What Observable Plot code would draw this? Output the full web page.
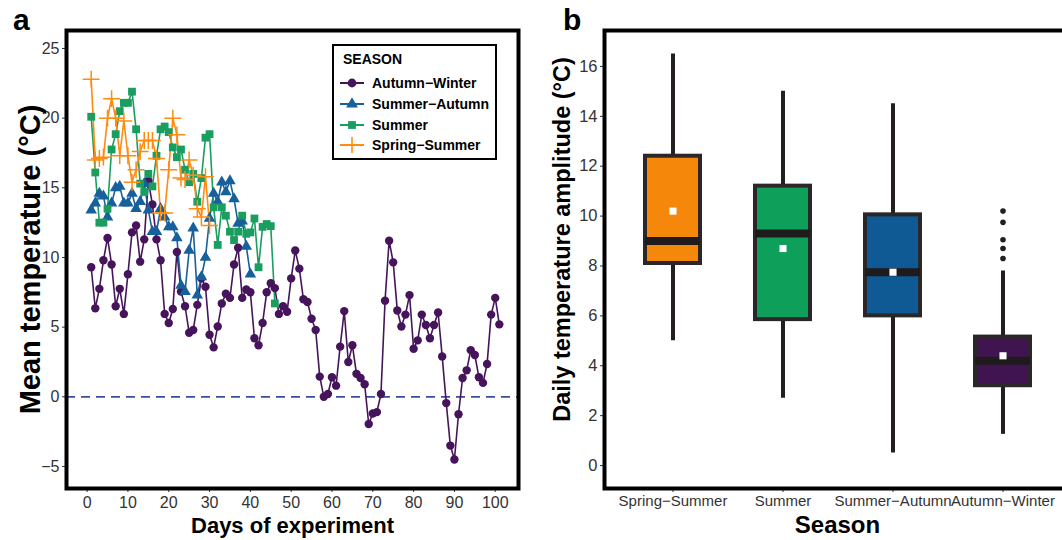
<!DOCTYPE html>
<html>
<head>
<meta charset="utf-8">
<script src="https://cdn.jsdelivr.net/npm/d3@7"></script>
<script src="https://cdn.jsdelivr.net/npm/@observablehq/plot@0.6"></script>
<style>
  html, body { margin: 0; padding: 0; background: #fff; overflow: hidden; }
  #wrap { position: relative; width: 1062px; height: 540px; overflow: hidden; font-family: "Liberation Sans", Arial, sans-serif; }
  .panel { position: absolute; top: 0; height: 540px; }
  .panel svg { max-width: none !important; }
  .tag { position: absolute; font-weight: bold; font-size: 30px; line-height: 30px; color: #000; }
  #legend { position: absolute; left: 332px; top: 44px; width: 161px; height: 112px; border: 2px solid #000; background: #fff; }
  #legend .ttl { position: absolute; left: 9px; top: 5px; font-size: 14px; line-height: 16px; font-weight: bold; }
  #legend .row { position: absolute; left: 0; height: 16px; width: 161px; }
  #legend .row svg { position: absolute; left: 5px; top: 0; }
  #legend .row span { position: absolute; left: 38px; top: 0; font-size: 14px; line-height: 16px; font-weight: bold; white-space: nowrap; }
</style>
</head>
<body>
<div id="wrap">
  <div class="panel" id="left" style="left:0px; width:530px"></div>
  <div class="panel" id="right" style="left:530px; width:545px"></div>
  <div class="tag" style="left:13px; top:5px">a</div>
  <div class="tag" style="left:563px; top:5px">b</div>
  <div id="legend"><div class="ttl">SEASON</div></div>
</div>
<script>
// ---------- Panel a data ----------
const seasons = ["Autumn−Winter", "Summer−Autumn", "Summer", "Spring−Summer"];
const lineColors = ["#46145a", "#17609b", "#1a9e5f", "#ff8c12"];
const symbols = ["circle", "triangle", "square", "plus"];

const autumnWinter = [9.3,6.35,7.75,9.8,11.4,9.5,6.5,7.75,5.95,8.8,
  11.8,12.3,9.7,11.3,15.5,13.8,11.3,9.8,5.95,5.3,
  6.3,10.4,7.55,6.5,4.6,4.8,6.6,8.5,7.9,4.45,
  3.55,5.05,6.7,7.4,7.1,9.5,10.7,7.1,7.7,7.5,
  4.2,3.7,5.3,7.5,8.15,7.8,5.95,6.5,6.1,8.5,
  10.5,9.2,7.0,6.8,5.6,4.8,1.45,0.0,0.2,1.4,
  0.8,3.6,6.15,2.5,3.7,1.65,1.35,0.9,-1.95,-1.2,
  -1.1,0.2,6.9,11.2,9.65,6.2,5.05,5.9,7.3,3.45,
  4.05,5.9,5.15,4.2,5.15,6.05,2.9,-0.45,-3.5,-4.5,
  -1.25,1.35,1.9,3.35,3.0,1.4,1.0,2.35,5.9,7.1,5.2];
const summerAutumn = [13.4,13.9,14.6,14.4,12.9,13.9,15.0,15.1,13.9,13.9,
  14.6,13.5,14.0,15.3,13.4,11.85,11.85,13.5,12.9,12.2,
  12.2,11.4,8.0,7.55,10.5,12.1,7.3,8.6,10.0,12.8,
  14.6,14.0,15.4,14.7,15.5,14.2,12.45,12.6,10.8,8.8];
const summer = [20.1,16.1,12.5,12.5,13.5,17.75,18.85,20.5,21.1,21.1,
  21.9,19.2,15.3,14.7,16.0,15.1,17.3,19.2,19.4,19.0,
  17.9,17.2,17.75,16.3,15.4,16.0,14.0,15.7,18.6,18.85,
  13.6,10.9,13.6,13.0,11.85,11.25,11.85,13.0,11.7,11.8,
  12.8,9.3,12.2,12.4,12.25,6.7];
const springSummer = [22.8,17.0,17.1,17.2,20.0,21.4,20.0,17.3,19.8,17.3,
  15.4,16.3,17.6,18.4,18.4,18.4,17.1,13.2,13.2,16.3,
  20.0,18.8,15.7,15.6,17.0,15.9,13.5,12.9,15.8,12.3];
const seriesValues = [autumnWinter, summerAutumn, summer, springSummer];

const xTicksA = [0,10,20,30,40,50,60,70,80,90,100];
const yTicksA = [-5,0,5,10,15,20,25];

// ---------- Panel b data ----------
const boxSeasons = ["Spring−Summer", "Summer", "Summer−Autumn", "Autumn−Winter"];
const boxColors = ["#f5870a", "#0ea05b", "#0f5a95", "#3f1450"];
const whiskerLow  = [5.0, 2.7, 0.5, 1.25];
const q1          = [8.1, 5.85, 6.0, 3.2];
const median      = [9.0, 9.3, 7.75, 4.2];
const q3          = [12.4, 11.2, 10.05, 5.15];
const whiskerHigh = [16.5, 15.0, 14.5, 7.8];
const meanValue   = [10.2, 8.7, 7.75, 4.4];
const outlierSeason = ["Autumn−Winter","Autumn−Winter","Autumn−Winter","Autumn−Winter","Autumn−Winter"];
const outlierValue  = [10.2, 9.75, 9.05, 8.7, 8.3];
const yTicksB = [0,2,4,6,8,10,12,14,16];

const FONT = "'Liberation Sans', Arial, sans-serif";

// ---------- Build panel a ----------
const seriesRows = seasons.map((s, k) => seriesValues[k].map((v, i) => ({season: s, day: i + 1, temp: v})));

const lineMarks = seriesRows.map((rows, k) =>
  Plot.line(rows, {x: "day", y: "temp", stroke: lineColors[k], strokeWidth: 1.6}));
const dotMarks = seriesRows.map((rows, k) => {
  if (symbols[k] === "plus") {
    return Plot.dot(rows, {x: "day", y: "temp", symbol: "plus", stroke: lineColors[k], strokeWidth: 1.5, r: 5.5});
  }
  const r = symbols[k] === "circle" ? 4.2 : symbols[k] === "triangle" ? 4.3 : 4.4;
  return Plot.dot(rows, {x: "day", y: "temp", symbol: symbols[k], fill: lineColors[k], stroke: "none", r});
});

const left = Plot.plot({
  width: 530, height: 540,
  marginLeft: 66, marginRight: 12, marginTop: 30, marginBottom: 52,
  style: {fontFamily: FONT, background: "transparent", color: "#333", overflow: "visible", maxWidth: "none"},
  x: {domain: [-5.05, 105.7]},
  y: {domain: [-6.58, 26.29]},
  marks: [
    Plot.ruleY([0], {stroke: "#3a4ea0", strokeWidth: 1.7, strokeDasharray: "9,6"}),
    ...lineMarks,
    ...dotMarks,
    Plot.axisX(xTicksA, {tickSize: 4, tickPadding: 4, fontSize: 16, label: null}),
    Plot.axisY(yTicksA, {tickSize: 4, tickPadding: 3, fontSize: 16, label: null}),
    Plot.text(["Days of experiment"], {text: d => d, frameAnchor: "bottom", textAnchor: "middle", dy: 44, fontSize: 22, fontWeight: "bold", fill: "#000"}),
    Plot.text(["Mean temperature (°C)"], {text: d => d, frameAnchor: "left", textAnchor: "middle", dx: -36, rotate: -90, fontSize: 29, fontWeight: "bold", fill: "#000"}),
    Plot.frame({stroke: "#000", strokeWidth: 4})
  ]
});
document.getElementById("left").appendChild(left);

// ---------- Legend (panel a) ----------
const symTypes = {circle: d3.symbolCircle, triangle: d3.symbolTriangle, square: d3.symbolSquare, plus: d3.symbolPlus};
const legend = document.getElementById("legend");
const rowTops = [29, 49.8, 70.6, 91.4];
seasons.forEach((s, k) => {
  const row = document.createElement("div");
  row.className = "row";
  row.style.top = rowTops[k] + "px";
  const isPlus = symbols[k] === "plus";
  const rr = isPlus ? 6 : 4.4;
  const path = d3.symbol(symTypes[symbols[k]], Math.PI * rr * rr)();
  row.innerHTML =
    `<svg width="26" height="16" viewBox="0 0 26 16">
       <line x1="1" y1="8" x2="25" y2="8" stroke="${lineColors[k]}" stroke-width="2"/>
       <path transform="translate(13,8)" d="${path}" ${isPlus ? `fill="none" stroke="${lineColors[k]}" stroke-width="1.6"` : `fill="${lineColors[k]}"`}/>
     </svg><span>${s}</span>`;
  legend.appendChild(row);
});

// ---------- Build panel b ----------
const stats = boxSeasons.map((s, i) => ({
  season: s, lo: whiskerLow[i], q1: q1[i], med: median[i], q3: q3[i], hi: whiskerHigh[i], mean: meanValue[i], color: boxColors[i]
}));
const outliers = outlierValue.map((v, i) => ({season: outlierSeason[i], amp: v}));

const right = Plot.plot({
  width: 545, height: 540,
  marginLeft: 74, marginRight: 5, marginTop: 30, marginBottom: 52,
  style: {fontFamily: FONT, background: "transparent", color: "#333", overflow: "visible", maxWidth: "none"},
  x: {type: "band", domain: boxSeasons, paddingInner: 0.5, paddingOuter: 0.35},
  y: {domain: [-0.92, 17.44]},
  marks: [
    Plot.ruleX(stats, {x: "season", y1: "lo", y2: "hi", stroke: "#231f20", strokeWidth: 4}),
    Plot.barY(stats, {x: "season", y1: "q1", y2: "q3", fill: d => d.color, stroke: "#2b2627", strokeWidth: 4}),
    Plot.tickY(stats, {x: "season", y: "med", stroke: "#1f1a1c", strokeWidth: 8}),
    Plot.dot(stats, {x: "season", y: "mean", symbol: "square", fill: "#fff", stroke: "none", r: 4}),
    Plot.dot(outliers, {x: "season", y: "amp", fill: "#231f20", stroke: "none", r: 2.8}),
    Plot.axisX({tickSize: 4, tickPadding: 3, fontSize: 15, label: null}),
    Plot.axisY(yTicksB, {tickSize: 4, tickPadding: 3, fontSize: 16.5, label: null}),
    Plot.text(["Season"], {text: d => d, frameAnchor: "bottom", textAnchor: "middle", dy: 44, fontSize: 24, fontWeight: "bold", fill: "#000"}),
    Plot.text(["Daily temperature amplitude (°C)"], {text: d => d, frameAnchor: "left", textAnchor: "middle", dx: -42, dy: -20, rotate: -90, fontSize: 23.5, fontWeight: "bold", fill: "#000"}),
    Plot.frame({stroke: "#000", strokeWidth: 4})
  ]
});
document.getElementById("right").appendChild(right);
</script>
</body>
</html>
